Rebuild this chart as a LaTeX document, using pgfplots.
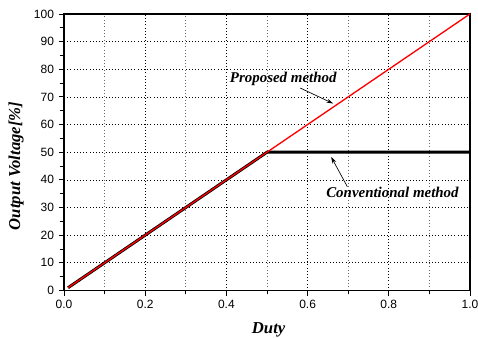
\documentclass[border=0pt]{standalone}
\usepackage{fontspec}
\setmainfont{Liberation Sans}
\newfontfamily\labfont{Liberation Serif}
\usepackage{pgfplots}
\pgfplotsset{compat=1.18}
\usetikzlibrary{arrows.meta}
\begin{document}
\begin{tikzpicture}
\begin{axis}[
  scale only axis,
  width=304.5pt, height=207.4pt,
  xmin=0, xmax=1, ymin=0, ymax=100,
  xtick={0,0.2,...,1.0},
  ytick={0,10,...,100},
  minor x tick num=1,
  minor y tick num=1,
  xmajorgrids, xminorgrids, ymajorgrids,
  grid style={black, dotted, line width=0.5pt},
  minor grid style={black!60, dotted, line width=0.7pt},
  axis line style={line width=1.1pt},
  tick align=outside,
  tick pos=left,
  major tick length=4pt,
  minor tick length=3pt,
  tick style={black, line width=0.6pt},
  x tick label style={/pgf/number format/.cd, fixed, fixed zerofill, precision=1},
  /pgf/number format/assume math mode=true,
  tick label style={font=\fontsize{9}{10}\selectfont},
  xlabel={Duty},
  ylabel={Output Voltage[\%]},
  label style={font=\labfont\bfseries\itshape\fontsize{12.5}{14}\selectfont, inner sep=0pt},
  xlabel style={at={(axis description cs:0.504,-0.154)}, anchor=base},
  ylabel style={at={(axis description cs:-0.118,0.45)}, anchor=center},
  clip=false,
]
\addplot[black, line width=2.2pt] coordinates {(0.01,1) (0.5,50) (1,50)};
\addplot[red, line width=1pt] coordinates {(0.01,1) (1,100)};
\node[font=\labfont\bfseries\itshape\fontsize{11.2}{13}\selectfont] at (axis cs:0.540,76.5) {Proposed method};
\node[font=\labfont\bfseries\itshape\fontsize{11.2}{13}\selectfont] at (axis cs:0.809,35.5) {Conventional method};
\draw[-{Stealth[length=5pt,width=3pt]}, line width=0.5pt] (axis cs:0.582,73.2) -- (axis cs:0.663,67.6);
\draw[-{Stealth[length=5pt,width=3pt]}, line width=0.5pt] (axis cs:0.698,37.5) -- (axis cs:0.658,48.3);
\coordinate (sw) at (rel axis cs:0,0);
\end{axis}
\pgfresetboundingbox
\path[use as bounding box] (sw) ++(-48pt,-34.9pt) rectangle ++(358.5pt,252.75pt);
\end{tikzpicture}
\end{document}
